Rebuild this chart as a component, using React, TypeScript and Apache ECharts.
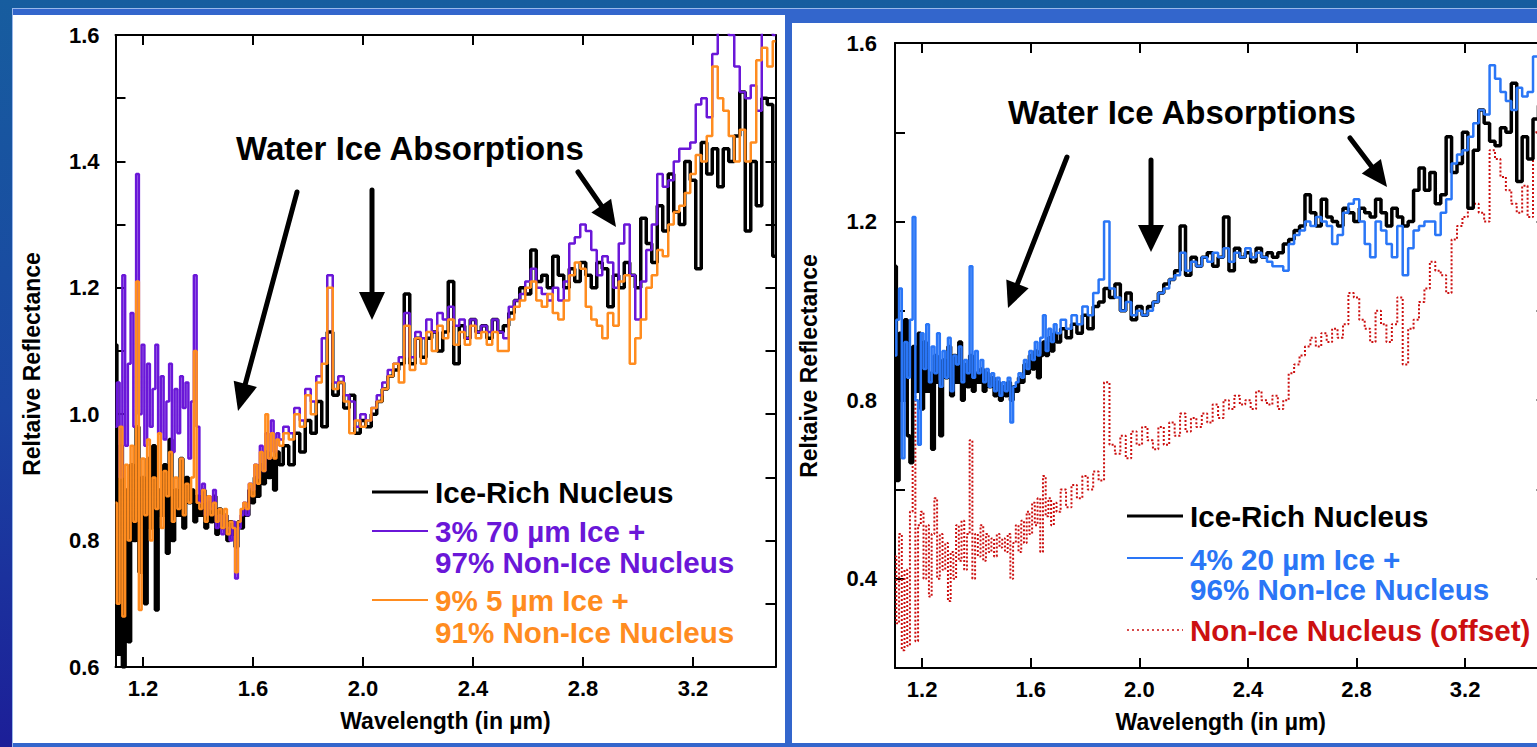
import React, { useEffect, useRef } from "react";
import * as echarts from "echarts";

const FONT = '"Liberation Sans", Arial, Helvetica, sans-serif';

// Wavelength grid (µm)
const WL = [
  1.10, 1.11, 1.12, 1.13, 1.14, 1.15, 1.16, 1.17, 1.18, 1.19,
  1.20, 1.21, 1.22, 1.23, 1.24, 1.25, 1.26, 1.27, 1.28, 1.29,
  1.30, 1.31, 1.32, 1.33, 1.34, 1.35, 1.36, 1.37, 1.38, 1.39,
  1.40, 1.41, 1.42, 1.43, 1.44, 1.45, 1.46, 1.47, 1.48, 1.49,
  1.50, 1.51, 1.52, 1.53, 1.54, 1.55, 1.56, 1.57, 1.58, 1.59,
  1.60, 1.61, 1.62, 1.63, 1.64, 1.65, 1.66, 1.67, 1.68, 1.69,
  1.70,
  1.72, 1.74, 1.76, 1.78, 1.80, 1.82, 1.84, 1.86, 1.88, 1.90,
  1.92, 1.94, 1.96, 1.98, 2.00, 2.02, 2.04, 2.06, 2.08, 2.10,
  2.12, 2.14, 2.16, 2.18, 2.20, 2.22, 2.24, 2.26, 2.28, 2.30,
  2.32, 2.34, 2.36, 2.38, 2.40, 2.42, 2.44, 2.46, 2.48, 2.50,
  2.52, 2.54, 2.56, 2.58, 2.60, 2.62, 2.64, 2.66, 2.68, 2.70,
  2.72, 2.74, 2.76, 2.78, 2.80, 2.82, 2.84, 2.86, 2.88, 2.90,
  2.92, 2.94, 2.96, 2.98, 3.00, 3.02, 3.04, 3.06, 3.08, 3.10,
  3.12, 3.14, 3.16, 3.18, 3.20, 3.22, 3.24, 3.26, 3.28, 3.30,
  3.32, 3.34, 3.36, 3.38, 3.40, 3.42, 3.44, 3.46, 3.48, 3.50,
];

// Left panel
const LEFT_ICE_RICH = [
  1.11, 0.62, 0.95, 0.60, 0.88, 0.64, 0.92, 0.80, 0.98, 0.75,
  0.90, 0.70, 0.93, 0.82, 0.95, 0.69, 0.88, 0.84, 0.92, 0.78,
  0.96, 0.80, 0.88, 0.84, 0.93, 0.82, 0.90, 0.86, 0.88, 0.83,
  0.87, 0.84, 0.88, 0.82, 0.86, 0.83, 0.87, 0.81, 0.85, 0.82,
  0.84, 0.80, 0.83, 0.81, 0.79, 0.83, 0.82, 0.85, 0.84, 0.88,
  0.86, 0.90, 0.87, 0.92, 0.89, 0.94, 0.90, 0.93, 0.88, 0.94,
  0.92,
  0.95, 0.92, 0.97, 0.94, 0.99, 0.97, 1.02, 0.98, 1.13, 1.03,
  1.05, 1.01, 1.03, 0.97, 0.99, 0.98, 1.00, 1.02, 1.04, 1.06,
  1.07, 1.08, 1.19, 1.08, 1.12, 1.09, 1.12, 1.13, 1.10, 1.13,
  1.21, 1.08, 1.14, 1.12, 1.15, 1.13, 1.14, 1.12, 1.15, 1.13,
  1.14, 1.16, 1.18, 1.20, 1.19, 1.26, 1.21, 1.22, 1.20, 1.25,
  1.22, 1.20, 1.23, 1.21, 1.24, 1.22, 1.20, 1.24, 1.23, 1.17,
  1.22, 1.20, 1.24, 1.22, 1.20, 1.31, 1.27, 1.24, 1.33, 1.29,
  1.38, 1.32, 1.30, 1.40, 1.37, 1.23, 1.43, 1.38, 1.42, 1.36,
  1.42, 1.40, 1.44, 1.51, 1.29, 1.40, 1.33, 1.50, 1.49, 1.25,
];
const LEFT_70UM = [
  0.98, 1.05, 0.90, 1.22, 0.95, 1.08, 1.16, 0.98, 1.38, 1.00,
  1.11, 0.95, 1.08, 0.98, 1.04, 1.11, 0.97, 1.06, 0.96, 1.02,
  1.08, 0.94, 1.04, 0.97, 1.06, 1.01, 1.05, 0.93, 1.02, 1.22,
  0.98, 0.86, 0.89, 0.84, 0.87, 0.85, 0.88, 0.82, 0.84, 0.81,
  0.84, 0.82, 0.80, 0.83, 0.74, 0.82, 0.84, 0.86, 0.84, 0.89,
  0.88, 0.92, 0.90, 0.95, 0.91, 0.97, 0.93, 0.99, 0.94, 0.97,
  0.96,
  0.98, 0.97, 1.01, 0.99, 1.04, 1.02, 1.06, 1.12, 1.22, 1.05,
  1.06, 1.03, 1.02, 0.98, 1.00, 0.99, 1.01, 1.03, 1.05, 1.07,
  1.08, 1.09, 1.16, 1.09, 1.13, 1.12, 1.15, 1.13, 1.16, 1.15,
  1.17, 1.14, 1.15, 1.12, 1.15, 1.13, 1.14, 1.13, 1.15, 1.13,
  1.12, 1.17, 1.18, 1.19, 1.21, 1.23, 1.20, 1.19, 1.18, 1.20,
  1.18, 1.21, 1.27, 1.28, 1.30, 1.29, 1.26, 1.22, 1.25, 1.24,
  1.20, 1.27, 1.30, 1.22, 1.15, 1.21, 1.26, 1.30, 1.38, 1.36,
  1.37, 1.40, 1.42, 1.42, 1.43, 1.49, 1.50, 1.47, 1.57, 1.62,
  1.64, 1.60, 1.55, 1.51, 1.50, 1.52, 1.48, 1.64, 1.62, 1.60,
];
const LEFT_5UM = [
  0.86, 0.70, 0.98, 0.68, 0.92, 0.80, 0.95, 0.83, 1.21, 0.69,
  0.93, 0.84, 0.96, 0.80, 0.90, 0.85, 0.97, 0.82, 0.91, 0.87,
  0.94, 0.83, 0.90, 0.85, 0.93, 0.84, 0.89, 0.86, 0.90, 1.10,
  0.86, 0.85, 0.88, 0.83, 0.87, 0.84, 0.86, 0.83, 0.85, 0.82,
  0.85, 0.81, 0.83, 0.82, 0.75, 0.83, 0.85, 0.86, 0.85, 0.89,
  0.87, 0.92, 0.89, 0.94, 0.91, 1.00, 0.93, 0.97, 0.93, 0.96,
  0.95,
  0.97, 0.96, 1.00, 0.98, 1.03, 1.00, 1.05, 1.08, 1.20, 1.04,
  1.05, 1.02, 0.97, 0.99, 0.98, 0.99, 1.01, 1.02, 1.04, 1.06,
  1.08, 1.05, 1.14, 1.07, 1.12, 1.08, 1.13, 1.10, 1.14, 1.12,
  1.15, 1.11, 1.13, 1.11, 1.14, 1.12, 1.13, 1.11, 1.13, 1.10,
  1.10, 1.15, 1.17, 1.18, 1.20, 1.21, 1.18, 1.17, 1.19, 1.16,
  1.15, 1.18, 1.22, 1.24, 1.23, 1.17, 1.15, 1.14, 1.12, 1.16,
  1.14, 1.21, 1.22, 1.08, 1.12, 1.15, 1.20, 1.22, 1.26, 1.25,
  1.30, 1.32, 1.33, 1.35, 1.38, 1.41, 1.40, 1.44, 1.55, 1.50,
  1.48, 1.44, 1.40, 1.45, 1.40, 1.43, 1.56, 1.58, 1.55, 1.59,
];

// Right panel
const RIGHT_ICE_RICH = [
  1.10, 0.62, 0.95, 0.80, 0.98, 0.72, 0.66, 0.92, 0.82, 0.95,
  0.78, 0.93, 0.82, 0.86, 0.69, 0.90, 0.84, 0.72, 0.89, 0.85,
  0.92, 0.81, 0.90, 0.84, 0.93, 0.80, 0.88, 0.83, 0.90, 0.82,
  0.86, 0.84, 0.87, 0.82, 0.86, 0.83, 0.85, 0.81, 0.84, 0.80,
  0.83, 0.81, 0.84, 0.80, 0.83, 0.82, 0.85, 0.84, 0.88, 0.86,
  0.90, 0.87, 0.91, 0.85, 0.90, 0.93, 0.90, 0.94, 0.91, 0.95,
  0.93,
  0.96, 0.94, 0.97, 0.95, 0.99, 0.96, 1.01, 1.02, 1.05, 1.03,
  1.06, 1.00, 1.04, 0.98, 1.01, 0.99, 1.01, 1.02, 1.04, 1.06,
  1.07, 1.09, 1.19, 1.08, 1.12, 1.10, 1.12, 1.13, 1.10, 1.12,
  1.21, 1.09, 1.14, 1.12, 1.13, 1.11, 1.14, 1.12, 1.13, 1.12,
  1.13, 1.15, 1.16, 1.18, 1.19, 1.26, 1.22, 1.19, 1.25, 1.21,
  1.20, 1.19, 1.23, 1.22, 1.20, 1.23, 1.22, 1.21, 1.25, 1.22,
  1.19, 1.23, 1.21, 1.19, 1.20, 1.27, 1.32, 1.27, 1.31, 1.24,
  1.26, 1.39, 1.31, 1.33, 1.40, 1.23, 1.36, 1.45, 1.42, 1.38,
  1.37, 1.41, 1.40, 1.51, 1.29, 1.39, 1.34, 1.43, 1.46, 1.42,
];
const RIGHT_20UM = [
  0.90, 0.98, 1.05, 0.67, 0.93, 0.85, 0.98, 1.21, 0.80, 0.70,
  0.95, 0.87, 0.97, 0.84, 0.92, 0.86, 0.95, 0.83, 0.91, 0.85,
  0.94, 0.82, 0.90, 0.88, 0.92, 0.84, 0.89, 0.86, 1.10, 0.85,
  0.91, 0.86, 0.89, 0.84, 0.87, 0.83, 0.86, 0.82, 0.85, 0.81,
  0.84, 0.82, 0.85, 0.75, 0.83, 0.84, 0.86, 0.85, 0.89, 0.87,
  0.91, 0.89, 0.93, 0.90, 0.94, 0.99, 0.91, 0.96, 0.93, 0.97,
  0.95,
  0.98, 0.96, 0.99, 0.97, 1.01, 0.99, 1.04, 1.07, 1.20, 1.05,
  1.03, 1.00, 1.02, 0.99, 1.00, 0.99, 1.00, 1.02, 1.04, 1.05,
  1.07, 1.08, 1.13, 1.09, 1.11, 1.10, 1.12, 1.11, 1.13, 1.12,
  1.14, 1.11, 1.13, 1.12, 1.14, 1.12, 1.13, 1.12, 1.11, 1.10,
  1.10, 1.09, 1.15, 1.17, 1.18, 1.20, 1.19, 1.21, 1.20, 1.19,
  1.15, 1.17, 1.22, 1.24, 1.25, 1.20, 1.15, 1.12, 1.20, 1.18,
  1.15, 1.12, 1.19, 1.08, 1.14, 1.18, 1.19, 1.20, 1.20, 1.17,
  1.22, 1.25, 1.33, 1.35, 1.36, 1.39, 1.42, 1.45, 1.44, 1.55,
  1.52, 1.49, 1.47, 1.45, 1.50, 1.48, 1.49, 1.57, 1.53, 1.50,
];
const RIGHT_NON_ICE = [
  0.45, 0.30, 0.50, 0.24, 0.42, 0.25, 0.55, 0.82, 0.26, 0.52,
  0.55, 0.40, 0.52, 0.36, 0.50, 0.58, 0.40, 0.50, 0.42, 0.48,
  0.35, 0.46, 0.40, 0.52, 0.44, 0.53, 0.42, 0.50, 0.71, 0.40,
  0.50, 0.45, 0.52, 0.44, 0.50, 0.46, 0.49, 0.45, 0.50, 0.47,
  0.49, 0.46, 0.50, 0.40, 0.48, 0.52, 0.46, 0.53, 0.48, 0.55,
  0.50, 0.57, 0.52, 0.58, 0.46, 0.63, 0.54, 0.58, 0.52, 0.57,
  0.55,
  0.60, 0.56, 0.61, 0.58, 0.63, 0.60, 0.64, 0.62, 0.84, 0.70,
  0.68, 0.72, 0.67, 0.73, 0.70, 0.74, 0.71, 0.69, 0.74, 0.70,
  0.75, 0.72, 0.77, 0.73, 0.76, 0.74, 0.77, 0.75, 0.79, 0.76,
  0.80, 0.78, 0.81, 0.79, 0.80, 0.78, 0.82, 0.80, 0.79, 0.81,
  0.78, 0.80, 0.86, 0.88, 0.90, 0.92, 0.94, 0.92, 0.95, 0.93,
  0.96, 0.94, 0.97, 1.04, 1.03, 0.98, 0.96, 0.93, 1.00, 0.97,
  0.93, 0.97, 1.03, 0.88, 0.96, 0.98, 1.02, 1.05, 1.11, 1.09,
  1.08, 1.04, 1.16, 1.19, 1.21, 1.23, 1.24, 1.22, 1.20, 1.36,
  1.34, 1.30, 1.27, 1.24, 1.22, 1.28, 1.21, 1.40, 1.35, 1.33,
];

const X_TICKS = [1.2, 1.6, 2.0, 2.4, 2.8, 3.2];
const X_MIN = 1.1;
const X_MAX = 3.5;

const C_BLACK = "#000000";
const C_PURPLE = "#6a17d8";
const C_ORANGE = "#ff8c1f";
const C_BLUE = "#2a76f6";
const C_RED = "#cc1010";

const pairs = (ys: number[]) => WL.map((x, i) => [x, ys[i]]);

const axisLineStyle = { show: true, lineStyle: { color: "#000", width: 2 } };

function xAxisDef(grid: number, position: "top" | "bottom", withLabels: boolean) {
  return {
    type: "value",
    gridIndex: grid,
    position,
    min: X_MIN,
    max: X_MAX,
    axisLine: { ...axisLineStyle, onZero: false },
    axisTick: { show: true, inside: true, length: 10, customValues: X_TICKS, lineStyle: { color: "#000", width: 2 } },
    axisLabel: withLabels
      ? {
          show: true,
          customValues: X_TICKS,
          formatter: (v: number) => v.toFixed(1),
          fontSize: 22,
          fontWeight: "bold",
          fontFamily: FONT,
          color: "#000",
          margin: 10,
        }
      : { show: false },
    splitLine: { show: false },
    name: withLabels ? "Wavelength (in µm)" : "",
    nameLocation: "middle",
    nameGap: 42,
    nameTextStyle: { fontSize: 23, fontWeight: "bold", fontFamily: FONT, color: "#000" },
  };
}

function yAxisDef(
  grid: number,
  position: "left" | "right",
  min: number,
  max: number,
  interval: number,
  labelEvery: number,
  margin: number
) {
  return {
    type: "value",
    gridIndex: grid,
    position,
    min,
    max,
    interval,
    axisLine: { ...axisLineStyle, onZero: false },
    axisTick: { show: true, inside: true, length: 10, lineStyle: { color: "#000", width: 2 } },
    axisLabel:
      position === "left"
        ? {
            show: true,
            fontSize: 22,
            fontWeight: "bold",
            fontFamily: FONT,
            color: "#000",
            margin,
            formatter: (v: number) => {
              const t = Math.round(v * 10);
              return t % labelEvery === 0 ? (t / 10).toFixed(1) : "";
            },
          }
        : { show: false },
    splitLine: { show: false },
  };
}

function arrow(x1: number, y1: number, x2: number, y2: number, headLen = 28, halfW = 13) {
  const dx = x2 - x1;
  const dy = y2 - y1;
  const len = Math.sqrt(dx * dx + dy * dy);
  const ux = dx / len;
  const uy = dy / len;
  const bx = x2 - ux * headLen;
  const by = y2 - uy * headLen;
  const nx = -uy;
  const ny = ux;
  return [
    {
      type: "line",
      shape: { x1, y1, x2: bx + ux * 2, y2: by + uy * 2 },
      style: { stroke: "#000", lineWidth: 5, lineCap: "round" },
      silent: true,
    },
    {
      type: "polygon",
      shape: {
        points: [
          [x2, y2],
          [bx + nx * halfW, by + ny * halfW],
          [bx - nx * halfW, by - ny * halfW],
        ],
      },
      style: { fill: "#000" },
      silent: true,
    },
  ];
}

function txt(text: string, x: number, y: number, size: number, color: string, extra: any = {}) {
  return {
    type: "text",
    x,
    y,
    silent: true,
    ...extra,
    style: {
      text,
      fill: color,
      fontSize: size,
      fontWeight: "bold",
      fontFamily: FONT,
      align: extra.align || "left",
      verticalAlign: "middle",
    },
  };
}

function legLine(x1: number, x2: number, y: number, color: string, width: number, dash?: number[]) {
  return {
    type: "line",
    shape: { x1, y1: y, x2, y2: y },
    style: { stroke: color, lineWidth: width, lineDash: dash || null },
    silent: true,
  };
}

export default function App() {
  const ref = useRef<HTMLDivElement>(null);

  useEffect(() => {
    if (!ref.current) return;
    const chart = echarts.init(ref.current, null, { renderer: "svg" });

    const graphics: any[] = [
      // annotations
      txt("Water Ice Absorptions", 236, 148, 33, "#000"),
      txt("Water Ice Absorptions", 1008, 112, 33, "#000"),
      ...arrow(297, 192, 238, 411, 28, 12),
      ...arrow(372, 190, 372, 320, 28, 13),
      ...arrow(578, 172, 616, 227, 26, 12),
      ...arrow(1067, 157, 1008, 308, 26, 12),
      ...arrow(1151, 160, 1151, 252, 27, 13),
      ...arrow(1350, 138, 1387, 187, 26, 12),
      // y axis titles
      txt("Reltaive Reflectance", 32, 364, 23, "#000", { rotation: Math.PI / 2, align: "center" }),
      txt("Reltaive Reflectance", 809, 366, 23, "#000", { rotation: Math.PI / 2, align: "center" }),
      // left legend
      legLine(372, 428, 492, C_BLACK, 3),
      txt("Ice-Rich Nucleus", 435, 492, 29.6, C_BLACK),
      legLine(372, 428, 531, C_PURPLE, 2),
      txt("3% 70 µm Ice +", 435, 531, 29.6, C_PURPLE),
      txt("97% Non-Ice Nucleus", 435, 562, 29.6, C_PURPLE),
      legLine(372, 428, 600, C_ORANGE, 2),
      txt("9% 5 µm Ice +", 435, 600, 29.6, C_ORANGE),
      txt("91% Non-Ice Nucleus", 435, 632, 29.6, C_ORANGE),
      // right legend
      legLine(1127, 1183, 516, C_BLACK, 3),
      txt("Ice-Rich Nucleus", 1190, 516, 29.6, C_BLACK),
      legLine(1127, 1183, 558, C_BLUE, 2),
      txt("4% 20 µm Ice +", 1190, 559, 29.6, C_BLUE),
      txt("96% Non-Ice Nucleus", 1190, 589, 29.6, C_BLUE),
      legLine(1127, 1183, 630, C_RED, 1.5, [2, 3]),
      txt("Non-Ice Nucleus (offset)", 1190, 630, 29.6, C_RED),
    ];

    const option: any = {
      animation: false,
      backgroundColor: "transparent",
      grid: [
        { left: 115.5, top: 35, width: 660, height: 632 },
        { left: 895, top: 43, width: 651.6, height: 625 },
      ],
      xAxis: [
        xAxisDef(0, "bottom", true),
        xAxisDef(0, "top", false),
        xAxisDef(1, "bottom", true),
        xAxisDef(1, "top", false),
      ],
      yAxis: [
        yAxisDef(0, "left", 0.6, 1.6, 0.1, 2, 16),
        yAxisDef(0, "right", 0.6, 1.6, 0.1, 2, 16),
        yAxisDef(1, "left", 0.2, 1.6, 0.2, 4, 18),
        yAxisDef(1, "right", 0.2, 1.6, 0.2, 4, 18),
      ],
      series: [
        {
          name: "Ice-Rich Nucleus",
          type: "line",
          xAxisIndex: 0,
          yAxisIndex: 0,
          step: "middle",
          symbol: "none",
          data: pairs(LEFT_ICE_RICH),
          lineStyle: { color: C_BLACK, width: 3.5 },
          z: 2,
        },
        {
          name: "3% 70 µm Ice + 97% Non-Ice Nucleus",
          type: "line",
          xAxisIndex: 0,
          yAxisIndex: 0,
          step: "middle",
          symbol: "none",
          data: pairs(LEFT_70UM),
          lineStyle: { color: C_PURPLE, width: 2.5 },
          z: 3,
        },
        {
          name: "9% 5 µm Ice + 91% Non-Ice Nucleus",
          type: "line",
          xAxisIndex: 0,
          yAxisIndex: 0,
          step: "middle",
          symbol: "none",
          data: pairs(LEFT_5UM),
          lineStyle: { color: C_ORANGE, width: 2.5 },
          z: 4,
        },
        {
          name: "Non-Ice Nucleus (offset)",
          type: "line",
          xAxisIndex: 2,
          yAxisIndex: 2,
          step: "middle",
          symbol: "none",
          data: pairs(RIGHT_NON_ICE),
          lineStyle: { color: C_RED, width: 2, type: [2, 2] },
          z: 2,
        },
        {
          name: "Ice-Rich Nucleus (right)",
          type: "line",
          xAxisIndex: 2,
          yAxisIndex: 2,
          step: "middle",
          symbol: "none",
          data: pairs(RIGHT_ICE_RICH),
          lineStyle: { color: C_BLACK, width: 3.5 },
          z: 3,
        },
        {
          name: "4% 20 µm Ice + 96% Non-Ice Nucleus",
          type: "line",
          xAxisIndex: 2,
          yAxisIndex: 2,
          step: "middle",
          symbol: "none",
          data: pairs(RIGHT_20UM),
          lineStyle: { color: C_BLUE, width: 2.5 },
          z: 4,
        },
      ],
      graphic: { elements: graphics },
    };

    chart.setOption(option);
    return () => chart.dispose();
  }, []);

  return (
    <div
      style={{
        position: "fixed",
        left: 0,
        top: 0,
        width: 1537,
        height: 747,
        overflow: "hidden",
        background: "linear-gradient(180deg, #175d9f 0%, #1a44a2 55%, #1c1e98 100%)",
      }}
    >
      <div
        style={{
          position: "absolute",
          left: 12,
          top: 8,
          width: 1600,
          height: 760,
          background: "#3366cc",
          borderTop: "1px solid #9ab8ea",
          borderLeft: "1px solid #9ab8ea",
        }}
      />
      <div style={{ position: "absolute", left: 13, top: 15, width: 772, height: 728, background: "#ffffff" }} />
      <div style={{ position: "absolute", left: 792, top: 23, width: 800, height: 720, background: "#ffffff" }} />
      <div ref={ref} style={{ position: "absolute", left: 0, top: 0, width: 1560, height: 747 }} />
    </div>
  );
}
